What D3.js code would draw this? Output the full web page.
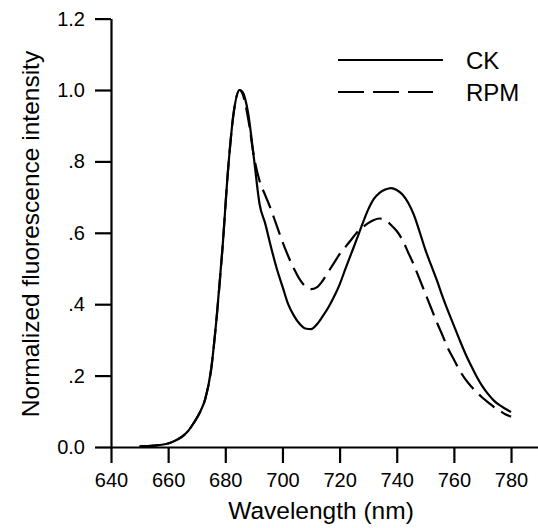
<!DOCTYPE html>
<html>
<head>
<meta charset="utf-8">
<script src="https://cdn.jsdelivr.net/npm/d3@7/dist/d3.min.js"></script>
<style>
  html, body { margin: 0; padding: 0; background: #fff; }
  text { font-family: "Liberation Sans", Arial, sans-serif; fill: #000; }
</style>
</head>
<body>
<svg id="chart" width="538" height="528"></svg>
<script>
// ---- data ----
const wavelength = [650,655,660,663,665,667,669,671,673,675,677,679,681,683,685,686,688,690,692,694,696,698,700,702,704,706,708,710,712,714,716,718,720,722,724,726,728,730,732,734,736,738,740,742,744,746,748,750,752,754,756,758,760,762,764,766,768,770,772,774,776,778,780];
const ck  = [0.002,0.004,0.010,0.020,0.030,0.045,0.068,0.095,0.135,0.215,0.365,0.555,0.780,0.940,1.000,0.995,0.935,0.810,0.680,0.625,0.560,0.500,0.450,0.400,0.368,0.345,0.332,0.330,0.343,0.365,0.390,0.420,0.455,0.498,0.540,0.582,0.625,0.665,0.695,0.712,0.721,0.725,0.720,0.707,0.684,0.650,0.603,0.553,0.510,0.468,0.422,0.380,0.340,0.300,0.262,0.228,0.197,0.170,0.148,0.130,0.117,0.107,0.098];
const rpm = [0.002,0.004,0.010,0.020,0.030,0.045,0.068,0.095,0.135,0.215,0.365,0.555,0.780,0.940,1.000,0.990,0.920,0.815,0.745,0.705,0.665,0.620,0.575,0.535,0.500,0.470,0.450,0.442,0.447,0.465,0.490,0.515,0.540,0.560,0.580,0.600,0.615,0.627,0.636,0.640,0.636,0.622,0.605,0.580,0.545,0.510,0.470,0.430,0.390,0.350,0.313,0.275,0.245,0.215,0.190,0.170,0.153,0.138,0.125,0.112,0.102,0.092,0.085];
const xTicks = [640,660,680,700,720,740,760,780];
const yTicks = [0,0.2,0.4,0.6,0.8,1.0,1.2];
const yTickLabels = ["0.0",".2",".4",".6",".8","1.0","1.2"];
const seriesNames = ["CK","RPM"];

// ---- layout ----
const svg = d3.select("#chart");
const x = d3.scaleLinear().domain([640, 790]).range([111, 539.6]);
const y = d3.scaleLinear().domain([0, 1.2]).range([447, 18.6]);

// axes
const xAxis = d3.axisBottom(x).tickValues(xTicks).tickSize(16).tickSizeOuter(0).tickPadding(10).tickFormat(d3.format("d"));
const yAxis = d3.axisLeft(y).tickValues(yTicks).tickSize(16).tickSizeOuter(0).tickPadding(10)
  .tickFormat((d, i) => yTickLabels[i]);

const gx = svg.append("g").attr("transform", "translate(0,447)").call(xAxis);
const gy = svg.append("g").attr("transform", "translate(111,0)").call(yAxis);
[gx, gy].forEach(g => {
  g.select(".domain").attr("stroke", "#000").attr("stroke-width", 2.2);
  g.selectAll(".tick line").attr("stroke", "#000").attr("stroke-width", 2.2);
  g.selectAll(".tick text").attr("font-size", "20px").attr("font-family", "Liberation Sans, Arial, sans-serif").attr("fill", "#000");
});

// curves
const line = d3.line().x((d, i) => x(wavelength[i])).y(d => y(d)).curve(d3.curveMonotoneX);
svg.append("path").datum(ck).attr("d", line).attr("fill", "none").attr("stroke", "#000").attr("stroke-width", 2.2);
svg.append("path").datum(rpm).attr("d", line).attr("fill", "none").attr("stroke", "#000").attr("stroke-width", 2.2).attr("stroke-dasharray", "20,8");

// legend
const leg = svg.append("g");
leg.append("line").attr("x1", 338).attr("x2", 443).attr("y1", 60).attr("y2", 60).attr("stroke", "#000").attr("stroke-width", 2.2);
leg.append("line").attr("x1", 338).attr("x2", 433).attr("y1", 92).attr("y2", 92).attr("stroke", "#000").attr("stroke-width", 2.2).attr("stroke-dasharray", "26,9");
leg.append("text").attr("x", 466).attr("y", 60).attr("dy", "0.36em").attr("font-size", "24px").text(seriesNames[0]);
leg.append("text").attr("x", 466).attr("y", 92).attr("dy", "0.36em").attr("font-size", "24px").text(seriesNames[1]);

// axis titles
svg.append("text").attr("x", 321).attr("y", 519).attr("text-anchor", "middle").attr("font-size", "24.5px").text("Wavelength (nm)");
svg.append("text").attr("transform", "translate(39,234) rotate(-90)").attr("text-anchor", "middle").attr("font-size", "24.5px").text("Normalized fluorescence intensity");
</script>
</body>
</html>
